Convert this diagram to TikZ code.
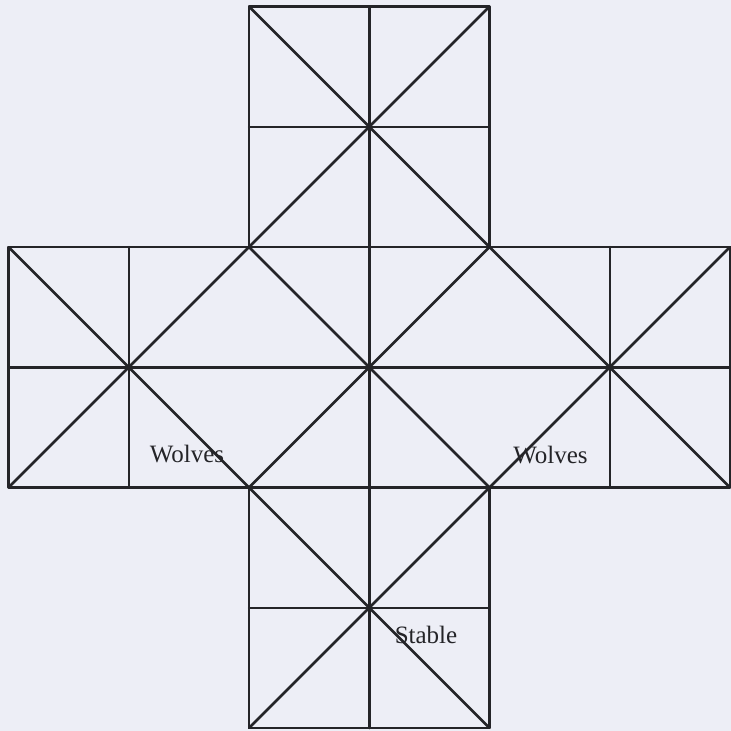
\documentclass[tikz,border=0pt]{standalone}
\usepackage{fontspec}
\setmainfont{Liberation Serif}
\definecolor{paper}{RGB}{237,238,246}
\definecolor{ink}{RGB}{36,36,40}
\tikzset{
  boardline/.style={draw=ink, line width=2.5pt, line cap=round, line join=round},
  lbl/.style={anchor=base, text=ink, font=\fontsize{25}{28}\selectfont, inner sep=0pt}
}
\begin{document}
\begin{tikzpicture}[x=1pt, y=-1pt]
\fill[paper] (0,0) rectangle (731,731);
\useasboundingbox (0,0) rectangle (731,731);
% grid coordinates
\foreach \i/\v in {0/8.5,1/128.75,2/249,3/369.25,4/489.5,5/609.75,6/730}{
  \foreach \j/\w in {0/6.5,1/126.75,2/247,3/367.25,4/487.5,5/607.75,6/728}{
    \coordinate (p\i\j) at (\v,\w);
  }
}
% outlines
\draw[boardline] (p20) rectangle (p42);
\draw[boardline] (p02) rectangle (p64);
\draw[boardline] (p24) rectangle (p46);
% inner straight lines
\draw[boardline] (p30) -- (p36);
\draw[boardline] (p21) -- (p41);
\draw[boardline] (p03) -- (p63);
\draw[boardline] (p25) -- (p45);
\draw[boardline] (p12) -- (p14);
\draw[boardline] (p52) -- (p54);
% diagonals
\draw[boardline] (p20) -- (p42) -- (p64);
\draw[boardline] (p40) -- (p22) -- (p04);
\draw[boardline] (p02) -- (p24) -- (p46);
\draw[boardline] (p62) -- (p44) -- (p26);
\draw[boardline] (p22) -- (p44);
\draw[boardline] (p42) -- (p24);
% labels
\node[lbl] (w1) at (187,462) {Wolves};
\node[lbl] (w2) at (550.5,463) {Wolves};
\node[lbl] (st) at (426,643) {Stable};
\end{tikzpicture}
\end{document}
